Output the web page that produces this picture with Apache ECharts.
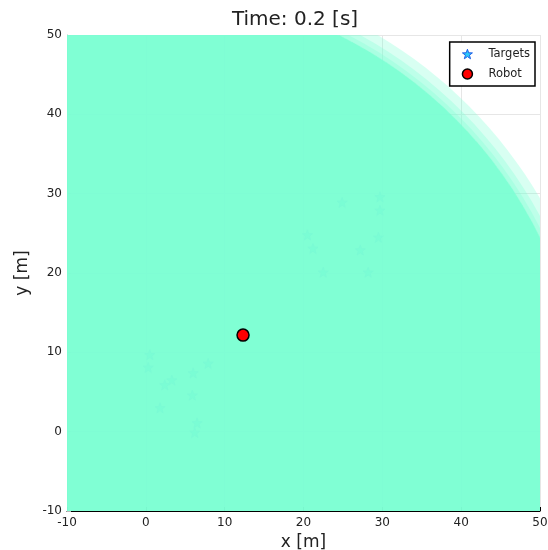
<!DOCTYPE html>
<html>
<head>
<meta charset="utf-8">
<script src="https://cdn.jsdelivr.net/npm/echarts@6/dist/echarts.min.js"></script>
<style>
  html, body { margin: 0; padding: 0; background: #fff; }
  #main { width: 548px; height: 550px; }
</style>
</head>
<body>
<div id="main"></div>
<script>
// targets (hidden under the coverage fill)
var targetX = [0.5, 0.3, 7.9, 6.0, 3.3, 2.4, 5.9, 1.8, 6.5, 6.2,
               24.9, 29.7, 29.7, 20.5, 21.2, 29.5, 27.2, 22.5, 28.2];
var targetY = [9.7, 8.1, 8.6, 7.4, 6.5, 5.9, 4.6, 3.0, 1.1, -0.1,
               28.9, 29.6, 27.9, 24.8, 23.1, 24.5, 22.9, 20.1, 20.1];

var robotPos = [12.33, 12.17];

// coverage circles around the origin, one per layer
var rangeCenter = [0, 0];
var rangeRadii = [58.0, 56.9, 56.2, 55.7, 55.6, 55.6, 55.6, 55.6, 55.6, 55.6];

var axisTicks = [-10, 0, 10, 20, 30, 40, 50];

var starPath = 'path://M0,-10 L2.35,-3.24 L9.51,-3.09 L3.8,1.24 L5.88,8.09 L0,4 L-5.88,8.09 L-3.8,1.24 L-9.51,-3.09 L-2.35,-3.24 Z';
var font = 'DejaVu Sans';

var targets = targetX.map(function (x, i) { return [x, targetY[i]]; });
var ranges = rangeRadii.map(function (r) { return [rangeCenter[0], rangeCenter[1], r]; });

var chart = echarts.init(document.getElementById('main'));

var starStyle = { color: '#2cc8f8', borderColor: '#1f5fe8', borderWidth: 1, opacity: 1 };
var robotStyle = { color: '#ff0000', borderColor: '#000', borderWidth: 1.5, opacity: 1 };

var option = {
  animation: false,
  backgroundColor: '#fff',
  title: {
    text: 'Time: 0.2 [s]',
    left: 290,
    textAlign: 'center',
    top: 5,
    textStyle: { fontFamily: font, fontSize: 20, fontWeight: 'normal', color: '#222' }
  },
  legend: {
    orient: 'vertical',
    right: 13,
    top: 42,
    data: [
      { name: 'Targets', itemStyle: starStyle },
      { name: 'Robot', itemStyle: robotStyle }
    ],
    backgroundColor: '#fff',
    borderColor: '#000',
    borderWidth: 1.5,
    borderRadius: 0,
    padding: [6, 5, 6, 12],
    itemWidth: 10,
    itemHeight: 10,
    itemGap: 8,
    textStyle: { fontFamily: font, fontSize: 11.5, color: '#222', padding: [0, 0, 0, 11] },
    z: 10
  },
  grid: { left: 67, right: 8, top: 35, bottom: 39, outerBoundsMode: 'none' },
  xAxis: {
    type: 'value',
    min: axisTicks[0],
    max: axisTicks[axisTicks.length - 1],
    interval: 10,
    name: 'x [m]',
    nameLocation: 'middle',
    nameGap: 23,
    nameTextStyle: { fontFamily: font, fontSize: 17, color: '#222' },
    axisLine: { onZero: false, lineStyle: { color: '#000', width: 1 } },
    axisTick: { inside: true, length: 4, lineStyle: { color: '#000' } },
    axisLabel: { fontFamily: font, fontSize: 12, color: '#222', margin: 6 },
    splitLine: { show: true, lineStyle: { color: '#e6e6e6', width: 1 } }
  },
  yAxis: {
    type: 'value',
    min: axisTicks[0],
    max: axisTicks[axisTicks.length - 1],
    interval: 10,
    name: 'y [m]',
    nameLocation: 'middle',
    nameRotate: 90,
    nameGap: 32,
    nameTextStyle: { fontFamily: font, fontSize: 17, color: '#222' },
    axisLine: { onZero: false, lineStyle: { color: '#b8b8b8', width: 1 } },
    axisTick: { inside: true, length: 4, lineStyle: { color: '#b8b8b8' } },
    axisLabel: { fontFamily: font, fontSize: 12, color: '#222', margin: 5 },
    splitLine: { show: true, lineStyle: { color: '#e6e6e6', width: 1 } }
  },
  series: [
    {
      name: 'Targets',
      type: 'scatter',
      symbol: starPath,
      symbolSize: 10,
      z: 1,
      itemStyle: starStyle,
      data: targets
    },
    {
      name: 'range',
      type: 'custom',
      clip: true,
      z: 2,
      silent: true,
      renderItem: function (params, api) {
        var c = api.coord([api.value(0), api.value(1)]);
        var s = api.size([api.value(2), api.value(2)]);
        return {
          type: 'ellipse',
          shape: { cx: c[0], cy: c[1], rx: s[0], ry: s[1] },
          style: { fill: 'rgba(127,255,212,0.3)' }
        };
      },
      data: ranges
    },
    {
      name: 'Robot',
      type: 'scatter',
      symbol: 'circle',
      symbolSize: 12,
      z: 3,
      itemStyle: robotStyle,
      data: [robotPos]
    }
  ]
};

chart.setOption(option);
</script>
</body>
</html>
